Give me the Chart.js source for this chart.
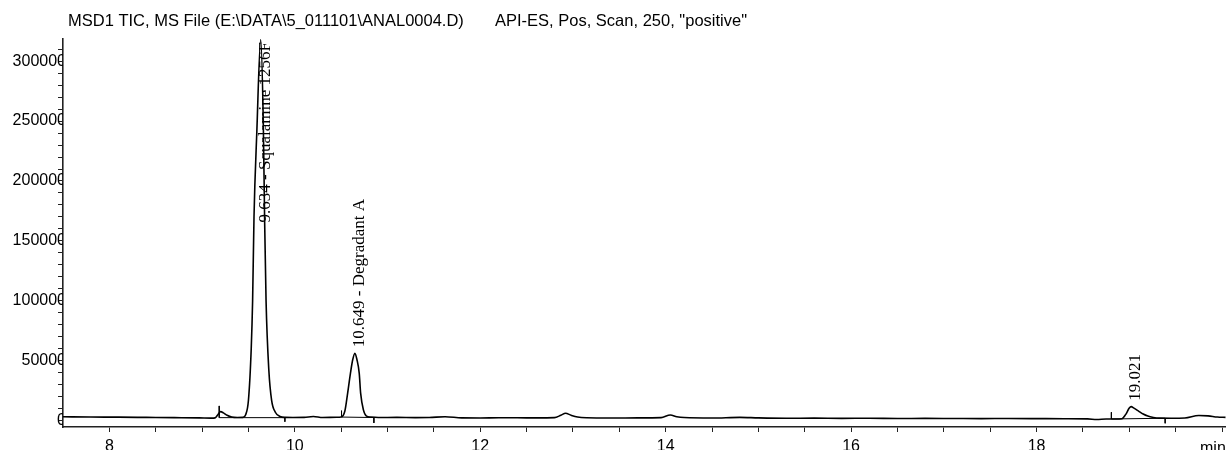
<!DOCTYPE html>
<html>
<head>
<meta charset="utf-8">
<script src="https://cdn.jsdelivr.net/npm/chart.js@4.4.0/dist/chart.umd.min.js"></script>
<style>
  html, body { margin: 0; padding: 0; background: #fff; }
</style>
</head>
<body>
<canvas id="tic" width="1227" height="450"></canvas>
<script>
// TIC trace (time in min, abundance)
const times = [
    7.50, 7.80, 8.10, 8.40, 8.70, 8.97, 9.10, 9.14, 9.17, 9.20, 9.23, 9.27, 9.32, 9.38, 9.44,
    9.47, 9.50, 9.53, 9.545, 9.56, 9.59, 9.632, 9.66, 9.675, 9.69, 9.72, 9.75, 9.79, 9.84, 9.90,
    9.98, 10.10, 10.20, 10.30, 10.45, 10.50,
    10.54, 10.57, 10.60, 10.625, 10.648, 10.67, 10.695, 10.71, 10.74, 10.77, 10.82, 10.90,
    11.10, 11.30, 11.45, 11.62, 11.80, 12.00, 12.20, 12.40, 12.60, 12.80,
    12.87, 12.92, 12.98, 13.05, 13.15, 13.40, 13.70, 13.95, 14.05, 14.12, 14.20,
    14.50, 14.80, 15.00, 15.30, 15.60, 15.90, 16.20, 16.50, 16.80, 17.10, 17.40, 17.70,
    18.00, 18.30, 18.55, 18.65, 18.75, 18.85, 18.92,
    18.96, 19.00, 19.02, 19.05, 19.10, 19.15, 19.20, 19.26, 19.32,
    19.45, 19.60, 19.75, 19.85, 19.95, 20.04
];
const counts = [
    3200, 3000, 2900, 2700, 2500, 2300, 2100, 2300, 5000, 7500, 6500, 4500, 3000, 2600, 2700,
    5000, 17000, 60000, 100000, 170000, 240000, 318000, 250000, 165000, 100000, 42000, 17000, 7000, 3500, 2700,
    2600, 2700, 3500, 2600, 2800, 3000,
    8000, 23000, 39500, 51000, 56300, 51000, 39500, 23000, 9000, 4000, 3000, 2600,
    2700, 2500, 2600, 3300, 2300, 2200, 2400, 2400, 2300, 2500,
    4500, 6200, 4500, 3000, 2400, 2200, 2300, 2500, 4700, 3300, 2600,
    2200, 2700, 2300, 2000, 2100, 1900, 2000, 1800, 1900, 1800, 1700, 1800,
    1700, 1600, 1500, 900, 1400, 1400, 1600,
    5000, 10500, 11700, 10500, 8000, 5500, 3800, 2700, 2100,
    2000, 2200, 4300, 4000, 3000, 2700
];

// integration events: start tick, baseline, end tick
const eventTimes = [
    [9.185, 9.185, 9.893, 9.893],
    [10.504, 10.504, 10.853, 10.853],
    [18.807, 18.807, 19.387, 19.387]
];
const eventCounts = [
    [12300, 2500, 2500, -900],
    [8300, 3000, 2600, -1900],
    [7000, 1400, 2000, -2200]
];

// peak annotations
const peakTimes = [9.634, 10.649, 19.021];
const peakHeights = [318000, 56300, 11700];
const peakLabels = ['9.634 - Squalamine 1256F', '10.649 - Degradant A', '19.021'];

const titleLeft = 'MSD1 TIC, MS File (E:\\DATA\\5_011101\\ANAL0004.D)';
const titleRight = 'API-ES, Pos, Scan, 250, "positive"';

const xMin = 7.5, xMax = 20.04;
const yMin = -5300, yMax = 318500;
const xMajor = [8, 10, 12, 14, 16, 18];
const yMajor = [0, 50000, 100000, 150000, 200000, 250000, 300000];

const traceData = times.map((t, i) => ({ x: t, y: counts[i] }));

const datasets = [{
    data: traceData,
    borderColor: '#000',
    borderWidth: 1.6,
    pointRadius: 0,
    cubicInterpolationMode: 'monotone'
}];
eventTimes.forEach((ts, k) => {
    datasets.push({
        data: ts.map((t, i) => ({ x: t, y: eventCounts[k][i] })),
        borderColor: '#000',
        borderWidth: 1,
        pointRadius: 0,
        tension: 0,
        clip: false
    });
});

// title, axis unit and rotated peak labels
const annotations = {
    id: 'annotations',
    afterDraw(chart) {
        const ctx = chart.ctx;
        const xs = chart.scales.x, ys = chart.scales.y;
        ctx.save();
        ctx.fillStyle = '#000';
        ctx.font = '16.5px Arial, "Liberation Sans", sans-serif';
        ctx.textAlign = 'left';
        ctx.textBaseline = 'alphabetic';
        ctx.fillText(titleLeft, 68, 26);
        ctx.fillText(titleRight, 495, 26);
        ctx.font = '16px Arial, "Liberation Sans", sans-serif';
        ctx.fillText('min', 1200, 453);

        // labels sit just above the apex, pushed down when they would run off the top
        ctx.font = '17px "Times New Roman", "Liberation Serif", serif';
        const top = chart.chartArea.top;
        peakTimes.forEach((t, i) => {
            const px = xs.getPixelForValue(t);
            const py = ys.getPixelForValue(peakHeights[i]);
            const w = ctx.measureText(peakLabels[i]).width;
            const start = Math.max(py - 6, top + 3 + w);
            ctx.save();
            ctx.translate(px + 9, start);
            ctx.rotate(-Math.PI / 2);
            ctx.fillText(peakLabels[i], 0, 0);
            ctx.restore();
        });
        ctx.restore();
    }
};

new Chart(document.getElementById('tic'), {
    type: 'line',
    data: { datasets: datasets },
    plugins: [annotations],
    options: {
        responsive: false,
        animation: false,
        devicePixelRatio: 1,
        layout: { padding: { top: 39, right: 0, left: 0, bottom: 0 } },
        plugins: {
            legend: { display: false },
            tooltip: { enabled: false }
        },
        scales: {
            x: {
                type: 'linear',
                min: xMin,
                max: xMax,
                afterBuildTicks: scale => {
                    const ticks = [];
                    for (let v = 8; v <= 20.001; v += 0.5) ticks.push({ value: v });
                    scale.ticks = ticks;
                },
                afterFit: scale => { scale.height = 23; },
                grid: { drawOnChartArea: false, drawTicks: true, tickLength: 5, color: '#222' },
                border: { display: true, color: '#222', width: 1.6 },
                ticks: {
                    autoSkip: false,
                    maxRotation: 0,
                    padding: 5,
                    color: '#000',
                    font: { family: 'Arial, "Liberation Sans", sans-serif', size: 16 },
                    callback: v => xMajor.includes(v) ? String(v) : ''
                }
            },
            y: {
                min: yMin,
                max: yMax,
                afterBuildTicks: scale => {
                    const ticks = [];
                    for (let v = 0; v <= 310000; v += 10000) ticks.push({ value: v });
                    scale.ticks = ticks;
                },
                afterFit: scale => { scale.width = 63; },
                grid: { drawOnChartArea: false, drawTicks: true, tickLength: 5, color: '#222' },
                border: { display: true, color: '#222', width: 1.6 },
                ticks: {
                    autoSkip: false,
                    padding: -8,
                    color: '#000',
                    font: { family: 'Arial, "Liberation Sans", sans-serif', size: 16 },
                    callback: v => yMajor.includes(v) ? String(v) : ''
                }
            }
        }
    }
});
</script>
</body>
</html>
